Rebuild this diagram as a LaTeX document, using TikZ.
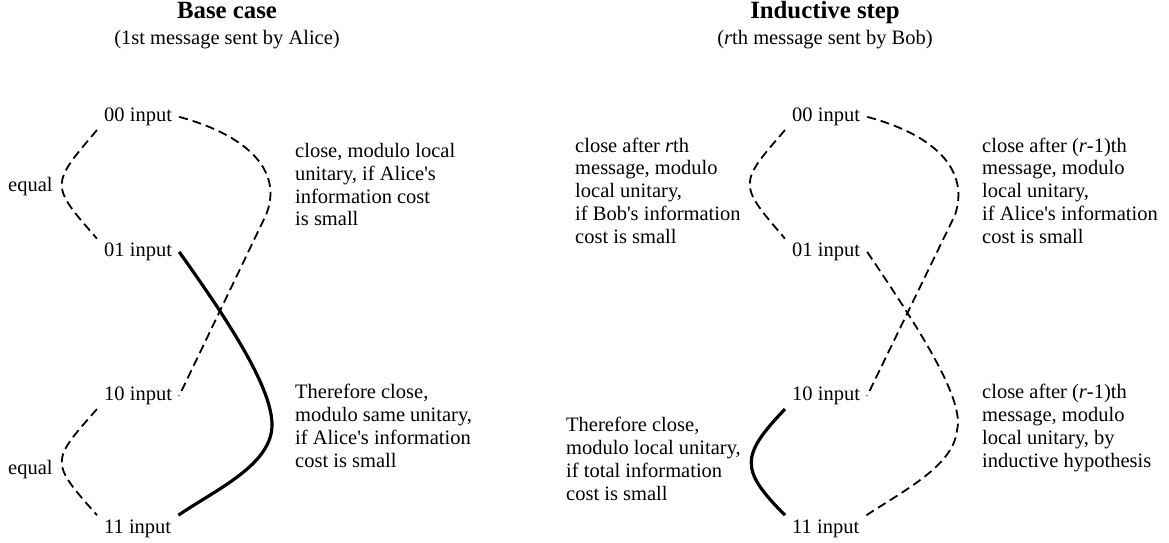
\documentclass[tikz,border=0pt]{standalone}
\usepackage{fontspec}
\setmainfont{Liberation Serif}[Ligatures=TeXOff]

\begin{document}
\begin{tikzpicture}
	[x=1pt, y=-1pt,
	every node/.style={font=\fontsize{20.5}{22.8}\selectfont, inner sep=0pt},
	heading/.style={font=\fontsize{24.8}{28}\selectfont\bfseries, anchor=base},
	caption/.style={anchor=base},
	input/.style={anchor=base west, inner xsep=7pt, inner ysep=4pt},
	note/.style={anchor=north west, align=left},
	link/.style={line width=1.8pt, dash pattern=on 9pt off 5pt},
	proof/.style={line width=3.2pt}]

\useasboundingbox (0,0) rectangle (1169,543);

\node [heading] (basetitle) at (227,19) {Base case};
\node [caption] (basesub) at (227,44.5) {(1st message sent by Alice)};
\node [heading] (steptitle) at (825,19) {Inductive step};
\node [caption] (stepsub) at (825,44.5) {(\textit{r}th message sent by Bob)};

\node [input] (a00) at (97,121.5) {00 input};
\node [input] (a01) at (97,256.5) {01 input};
\node [input] (a10) at (97,400.5) {10 input};
\node [input] (a11) at (97,533) {11 input};
\node [anchor=base west] (aeq1) at (8,191) {equal};
\node [anchor=base west] (aeq2) at (8,474) {equal};
\node [note] (anote1) at (295,143) {close, modulo local\\unitary, if Alice's\\information cost\\is small};
\node [note] (anote2) at (295,384) {Therefore close,\\modulo same unitary,\\if Alice's information\\cost is small};

\node [input] (b00) at (785,121.5) {00 input};
\node [input] (b01) at (785,256.5) {01 input};
\node [input] (b10) at (785,400.5) {10 input};
\node [input] (b11) at (785,533) {11 input};
\node [note] (bnote1) at (575,137.5) {close after \textit{r}th\\message, modulo\\local unitary,\\if Bob's information\\cost is small};
\node [note] (bnote2) at (982,137.5) {close after (\textit{r}-1)th\\message, modulo\\local unitary,\\if Alice's information\\cost is small};
\node [note] (bnote3) at (566,417) {Therefore close,\\modulo local unitary,\\if total information\\cost is small};
\node [note] (bnote4) at (982,384) {close after (\textit{r}-1)th\\message, modulo\\local unitary, by\\inductive hypothesis};

\draw [link] (a00.south west) .. controls (50,185) and (50,185) .. (a01.north west);
\draw [link] (a00.east) .. controls (246,135) and (284,170) .. (266,215) -- (a10.east);
\draw [proof] (a01.east) .. controls (235,330) and (272,390) .. (272,425) .. controls (272,465) and (215,490) .. (a11.north east);
\draw [link] (a10.south west) .. controls (50,462) and (50,462) .. (a11.north west);

\draw [link] (b00.south west) .. controls (738,184) and (738,184) .. (b01.north west);
\draw [link] (b00.east) .. controls (935,135) and (970,170) .. (955,215) -- (b10.east);
\draw [link] (b01.east) .. controls (920,330) and (965,400) .. (957,430) .. controls (954,465) and (905,490) .. (b11.north east);
\draw [proof] (b10.south west) .. controls (740,456) and (740,470) .. (b11.north west);

\end{tikzpicture}
\end{document}
